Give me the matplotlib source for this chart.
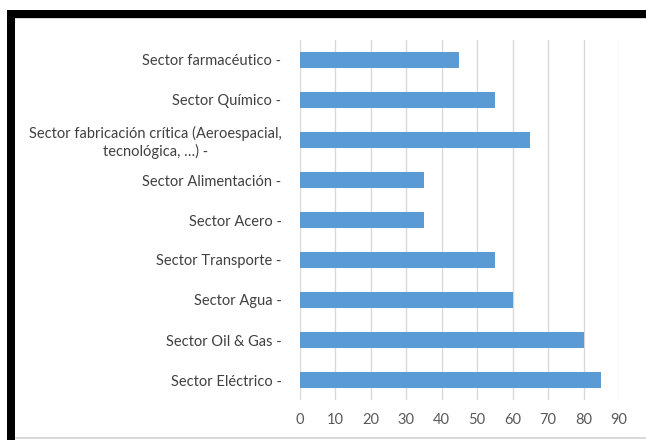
import matplotlib
matplotlib.use("Agg")
import matplotlib.pyplot as plt
from matplotlib.patches import Rectangle

categories = [
    "Sector Eléctrico",
    "Sector Oil & Gas",
    "Sector Agua",
    "Sector Transporte",
    "Sector Acero",
    "Sector Alimentación",
    "Sector fabricación crítica (Aeroespacial,\ntecnológica, …)",
    "Sector Químico",
    "Sector farmacéutico",
]
values = [85, 80, 60, 55, 35, 35, 65, 55, 45]
xticks = [0, 10, 20, 30, 40, 50, 60, 70, 80, 90]

plt.rcParams['font.family'] = ['Lato', 'DejaVu Sans']

W, H = 646, 440
fig = plt.figure(figsize=(W / 100, H / 100), dpi=100)
ax = fig.add_axes([299.5 / W, 1 - 400 / H, (619 - 299.5) / W, 360 / H])

y = list(range(len(categories)))
ax.barh(y, values, height=0.38, color="#5B9BD5", zorder=3)
ax.set_xlim(0, 90)
ax.set_ylim(-0.5, len(categories) - 0.5)
ax.set_xticks(xticks)
ax.set_xticklabels([str(t) for t in xticks], fontsize=10.5, color="#595959")
ax.set_yticks(y)
ax.set_yticklabels([c + " -" for c in categories], fontsize=10.5, color="#404040",
                   multialignment="center")
ax.tick_params(axis="both", length=0)
ax.tick_params(axis="x", pad=9)
ax.tick_params(axis="y", pad=13)
for s in ax.spines.values():
    s.set_visible(False)
ax.grid(axis="x", color="#D9D9D9", linewidth=1.0, zorder=0)
ax.set_axisbelow(True)

# frame decorations
fig.patches.append(Rectangle((7 / W, 0), 8 / W, 1 - 10 / H, transform=fig.transFigure,
                             facecolor="black", edgecolor="none"))
fig.patches.append(Rectangle((7 / W, 1 - 18 / H), 1 - 7 / W, 8 / H, transform=fig.transFigure,
                             facecolor="black", edgecolor="none"))
fig.patches.append(Rectangle((15 / W, 1 - 19 / H), 1 - 15 / W, 1 / H, transform=fig.transFigure,
                             facecolor="#D9D9D9", edgecolor="none"))
fig.patches.append(Rectangle((15 / W, 1 - 439 / H), 1 - 15 / W, 2 / H, transform=fig.transFigure,
                             facecolor="#D9D9D9", edgecolor="none"))

fig.savefig("out.png", dpi=100)
